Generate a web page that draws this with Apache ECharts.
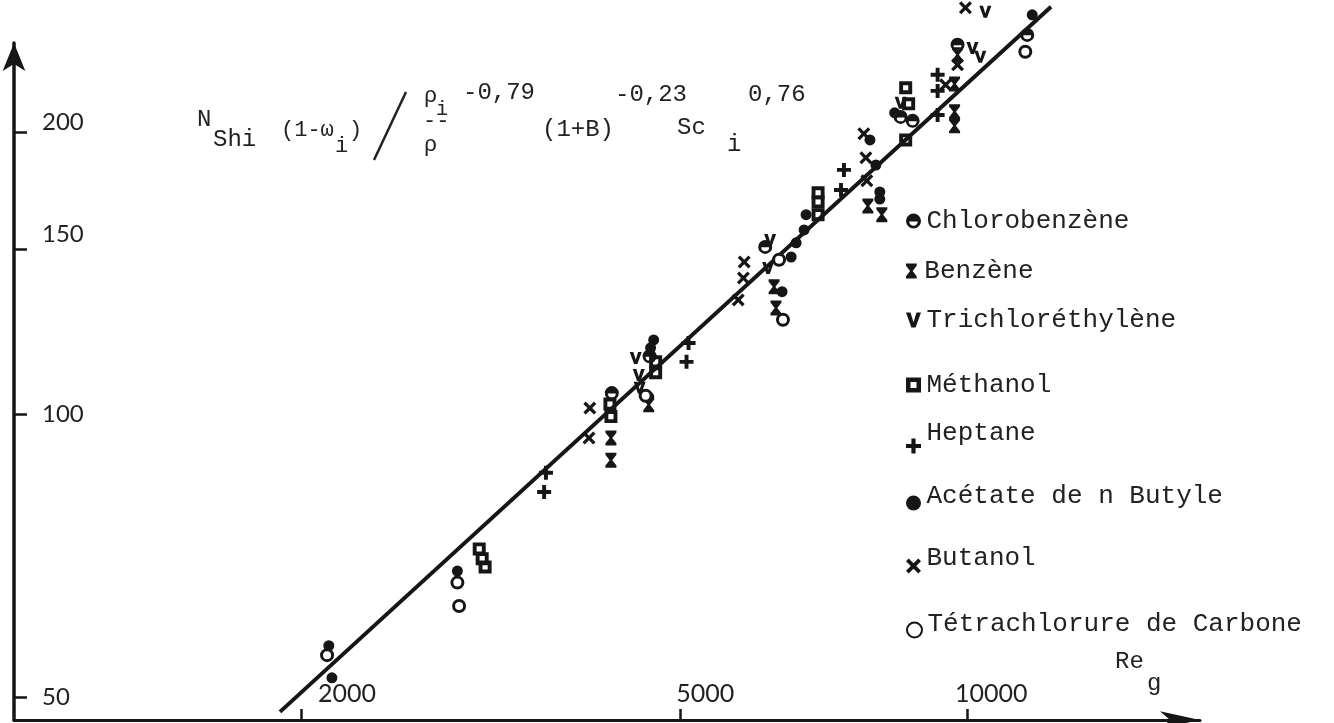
<!DOCTYPE html>
<html>
<head>
<meta charset="utf-8">
<script src="https://cdn.jsdelivr.net/npm/echarts@6/dist/echarts.min.js"></script>
<style>html,body{margin:0;padding:0;background:#fff}#c{width:1334px;height:723px}</style>
</head>
<body>
<div id="c"></div>
<script>
// ---- data (Re_g, ordinate) ----
const xTicks = [2000, 5000, 10000];
const yTicks = [50, 100, 150, 200];
const seriesNames = ['Chlorobenzène','Benzène','Trichloréthylène','Méthanol','Heptane','Acétate de n Butyle','Butanol','Tétrachlorure de Carbone'];
const chloro = [[4237,105.4],[4642,115.4],[6137,150.9],[8512,207.6],[8762,205.6],[9766,247.8],[11556,253.9]];
const benzene = [[4228,94.4],[4228,89.4],[4632,102.4],[6270,136.8],[6299,129.9],[7864,166.8],[8134,163.3],[9696,225.1],[9696,210.2],[9696,203.1],[9766,241.8]];
const tricho = [[4489,114.9],[4522,110.2],[4532,106.8],[6210,153.5],[6180,143.3],[8512,214.9],[10444,268.7],[10124,245.9],[10318,240.6]];
const methanol = [[3076,71.9],[3098,70.2],[3120,68.8],[4218,102.6],[4228,99.5],[4710,113.8],[4710,110.8],[6973,172.3],[6973,168.5],[6973,163.3],[8616,223],[8678,214.4],[8616,196.2]];
const heptane = [[3614,86.7],[3598,82.7],[5100,119.2],[5075,113.8],[7423,182.3],[7370,173.5],[9307,230.2],[9307,221.3],[9307,208.6]];
const acetate = [[2139,56.7],[2155,52.4],[2918,68.1],[4688,120.1],[4653,117.8],[4632,104.4],[6392,135.2],[6534,147.2],[6613,152.4],[6774,163.3],[6742,157.3],[7904,196.2],[8018,184.5],[8094,172.7],[8094,169.7],[8390,209.7],[11696,266.7]];
const butanol = [[4018,101.6],[4010,94.4],[5834,145.4],[5822,139.8],[5750,132.5],[7788,199.2],[7826,187.8],[7845,177.5],[9488,224.6],[9954,271.4],[9766,235.9]];
const tetra = [[2130,55.4],[2918,66.2],[2930,62.5],[4598,104.7],[6346,146.2],[6406,126.2],[11502,243.6]];
const fitLine = [[1901,48.2],[12240,272]];

const INK = '#161616';
const TXT = '#222';
const MONO = '"Liberation Mono", "DejaVu Sans Mono", monospace';
const SANS = 'Lato, "Noto Sans", sans-serif';

const symbols = {
  chloro: 'path://M6,0 A6,6 0 1,1 6,12 A6,6 0 1,1 6,0 Z M2.6,6.4 A3.4,3.4 0 0,0 9.4,6.4 Z',
  benzene: 'path://M0,0 L10,0 L10,2 L6.2,7 L10,12 L10,14 L0,14 L0,12 L3.8,7 L0,2 Z',
  tricho: 'path://M0,0 L3,0 L5,6.5 L7,0 L10,0 L6.4,10 L3.6,10 Z',
  methanol: 'path://M0,0 L10,0 L10,10 L0,10 Z M3,3 L3,7 L7,7 L7,3 Z',
  heptane: 'path://M3.6,0 L6.4,0 L6.4,3.6 L10,3.6 L10,6.4 L6.4,6.4 L6.4,10 L3.6,10 L3.6,6.4 L0,6.4 L0,3.6 L3.6,3.6 Z',
  butanol: 'path://M0,1.8 L1.8,0 L5,3.2 L8.2,0 L10,1.8 L6.8,5 L10,8.2 L8.2,10 L5,6.8 L1.8,10 L0,8.2 L3.2,5 Z'
};

const seriesCfg = [
  {data: chloro, symbol: symbols.chloro, size: 14},
  {data: benzene, symbol: symbols.benzene, size: [11,15]},
  {data: tricho, symbol: symbols.tricho, size: [12,12]},
  {data: methanol, symbol: symbols.methanol, size: 13},
  {data: heptane, symbol: symbols.heptane, size: 14},
  {data: acetate, symbol: 'circle', size: 11},
  {data: butanol, symbol: symbols.butanol, size: 13},
  {data: tetra, symbol: 'circle', size: 11, ring: true}
];

const series = [{
  type: 'line', data: fitLine, symbol: 'none', clip: false, silent: true, z: 1,
  lineStyle: {color: INK, width: 4}
}].concat(seriesCfg.map((c, i) => ({
  name: seriesNames[i], type: 'scatter', data: c.data, symbol: c.symbol, symbolSize: c.size,
  clip: false, z: 3,
  itemStyle: c.ring ? {color: '#fff', borderColor: INK, borderWidth: 3, opacity: 1} : {color: INK, opacity: 1}
})));

// legend placement (icon centre drop below text given by textDrop)
const legendTops = [208, 258, 307, 372, 420, 483, 545, 611];
const textDrop = [0, 0, 0, 0, 13, 7, 8, 6];
const legends = seriesNames.map((n, i) => ({
  data: [n], left: 906, top: legendTops[i], orient: 'vertical',
  itemWidth: 16, itemHeight: 15, selectedMode: false, padding: 0,
  formatter: '{u|{name}}',
  textStyle: {fontFamily: MONO, fontSize: 26, color: TXT,
    rich: {u: {fontFamily: MONO, fontSize: 26, color: TXT, padding: [0, 0, 2 * textDrop[i], 0]}}}
}));

const xRich = {a: {padding: [0,0,0,92]}, b: {padding: [0,0,0,50]}, c: {padding: [0,0,0,48]}};
const xKey = {2000: 'a', 5000: 'b', 10000: 'c'};
const yRich = {h: {padding: [0,0,20,0]}, g: {padding: [0,0,30,0]}, n: {padding: [0,0,0,0]}};
const yKey = {200: 'h', 150: 'g', 100: 'n', 50: 'n'};

function t(x, y, text, size) {
  return {type: 'text', x: x, y: y, silent: true,
    style: {text: text, font: (size || 24) + 'px ' + MONO, fill: TXT, verticalAlign: 'middle', align: 'left'}};
}

const chart = echarts.init(document.getElementById('c'), null, {renderer: 'canvas'});
chart.setOption({
  backgroundColor: '#fff',
  animation: false,
  grid: {left: 14, right: 134, top: 43, bottom: 3, containLabel: false},
  legend: legends,
  xAxis: {
    type: 'log', logBase: 10, min: 1000, max: 17540,
    splitLine: {show: false}, minorTick: {show: false},
    axisLine: {show: true, onZero: false, symbol: ['none', 'arrow'], symbolSize: [13, 40], lineStyle: {color: INK, width: 3}},
    axisTick: {show: true, inside: true, length: 11, customValues: xTicks, lineStyle: {color: INK, width: 2.5}},
    axisLabel: {show: true, inside: true, margin: 14, customValues: xTicks, fontFamily: SANS, fontSize: 25, color: TXT,
      formatter: v => '{' + xKey[v] + '|' + v + '}', rich: xRich}
  },
  yAxis: {
    type: 'log', logBase: 10, min: 47.25, max: 248.9,
    splitLine: {show: false}, minorTick: {show: false},
    axisLine: {show: true, onZero: false, symbol: ['none', 'arrow'], symbolSize: [17, 28], lineStyle: {color: INK, width: 3.5}},
    axisTick: {show: true, inside: true, length: 13, customValues: yTicks, lineStyle: {color: INK, width: 2.5}},
    axisLabel: {show: true, inside: true, margin: 28, customValues: yTicks, fontFamily: SANS, fontSize: 24, color: TXT,
      formatter: v => '{' + yKey[v] + '|' + v + '}', rich: yRich}
  },
  graphic: [
    t(1115, 662, 'Re', 24),
    t(1147, 684, 'g', 24),
    t(197, 120, 'N'),
    t(213, 140, 'Shi'),
    t(281, 130, '(1-ω', 22),
    t(335, 146, 'i', 22),
    t(349, 130, ')', 22),
    {type: 'line', silent: true, shape: {x1: 374, y1: 160, x2: 406, y2: 92}, style: {stroke: TXT, lineWidth: 2.5}},
    t(424, 96, 'ρ', 22),
    t(436, 110, 'i', 20),
    t(423, 121, '--', 22),
    t(424, 145, 'ρ', 22),
    t(463, 93, '-0,79'),
    t(542, 130, '(1+B)'),
    t(615, 95, '-0,23'),
    t(677, 128, 'Sc'),
    t(727, 145, 'i'),
    t(748, 95, '0,76')
  ],
  series: series
});
</script>
</body>
</html>
